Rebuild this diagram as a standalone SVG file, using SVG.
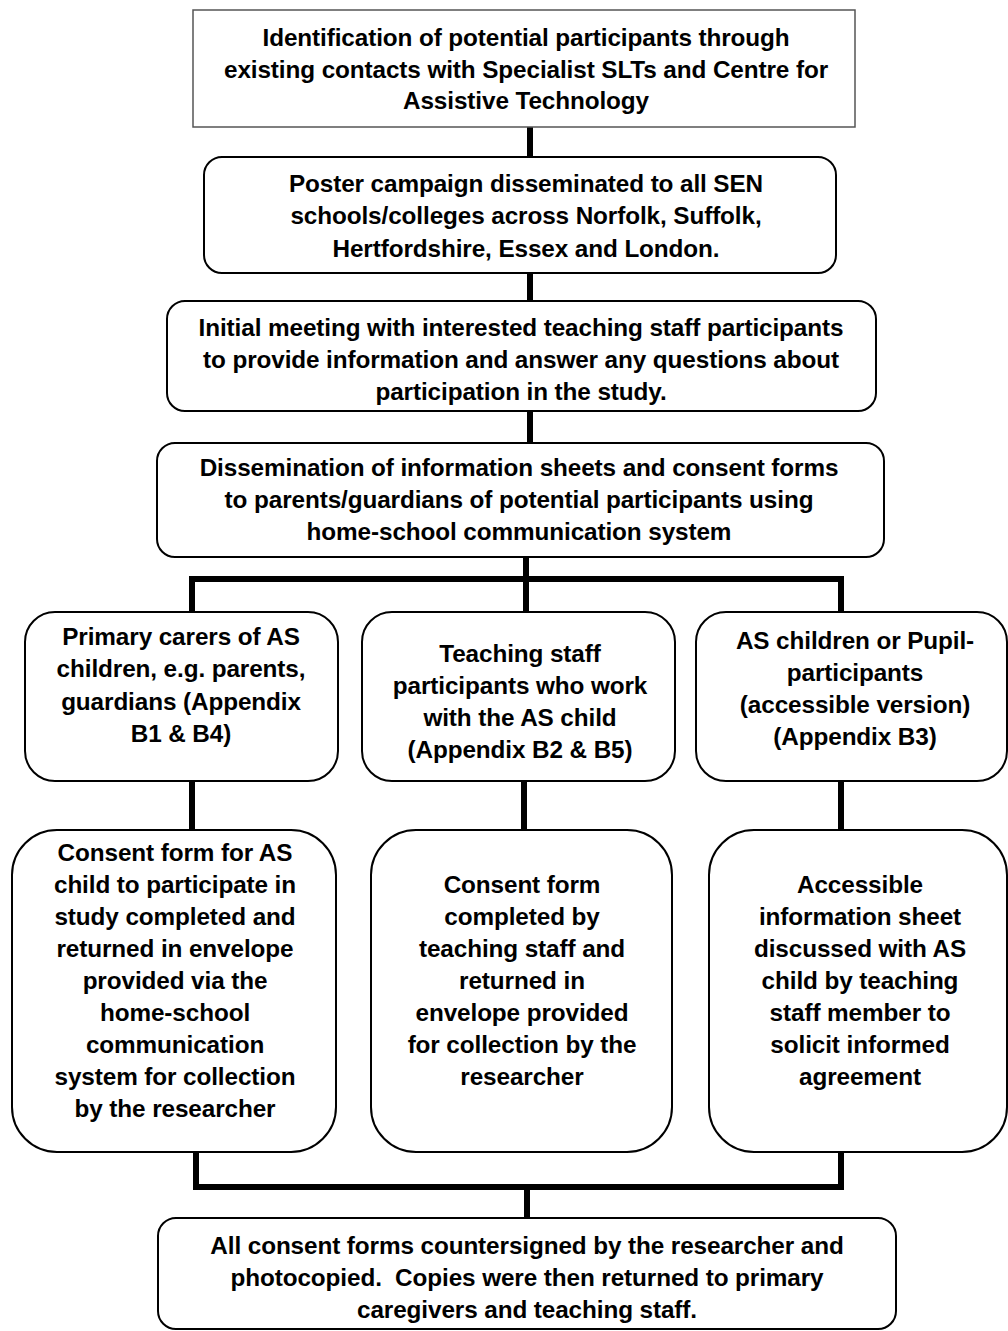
<svg xmlns="http://www.w3.org/2000/svg" width="1008" height="1331" viewBox="0 0 1008 1331">
<style>
.box{fill:#fff;stroke:#000;stroke-width:2}
.sq{fill:#fff;stroke:#555;stroke-width:1.5}
.t{font-family:"Liberation Sans",Arial,sans-serif;font-weight:bold;font-size:24.3px;letter-spacing:-0.1px;text-anchor:middle;fill:#000;white-space:pre}
.c{stroke:#000;stroke-width:6;fill:none;stroke-linecap:butt}
</style>
<rect width="1008" height="1331" fill="#fff"/>
<g id="connectors">
<line class="c" x1="530" y1="127" x2="530" y2="157"/>
<line class="c" x1="530" y1="273" x2="530" y2="301"/>
<line class="c" x1="530" y1="411" x2="530" y2="443"/>
<line class="c" x1="526" y1="557" x2="526" y2="612"/>
<polyline class="c" points="192,612 192,579 841,579 841,612"/>
<line class="c" x1="192" y1="781" x2="192" y2="830"/>
<line class="c" x1="524" y1="781" x2="524" y2="830"/>
<line class="c" x1="841" y1="781" x2="841" y2="830"/>
<polyline class="c" points="196,1152 196,1187 841,1187 841,1152"/>
<line class="c" x1="527" y1="1187" x2="527" y2="1218"/>
</g>
<g id="n1"><rect class="sq" x="193" y="10" width="662" height="117"/>
<text class="t"><tspan x="526" y="46">Identification of potential participants through</tspan><tspan x="526" y="78">existing contacts with Specialist SLTs and Centre for</tspan><tspan x="526" y="109">Assistive Technology</tspan></text></g>
<g id="n2"><rect class="box" x="204" y="157" width="632" height="116" rx="18"/>
<text class="t"><tspan x="526" y="192">Poster campaign disseminated to all SEN</tspan><tspan x="526" y="224">schools/colleges across Norfolk, Suffolk,</tspan><tspan x="526" y="257">Hertfordshire, Essex and London.</tspan></text></g>
<g id="n3"><rect class="box" x="167" y="301" width="709" height="110" rx="18"/>
<text class="t"><tspan x="521" y="336">Initial meeting with interested teaching staff participants</tspan><tspan x="521" y="368">to provide information and answer any questions about</tspan><tspan x="521" y="400">participation in the study.</tspan></text></g>
<g id="n4"><rect class="box" x="157" y="443" width="727" height="114" rx="18"/>
<text class="t"><tspan x="519" y="476">Dissemination of information sheets and consent forms</tspan><tspan x="519" y="508">to parents/guardians of potential participants using</tspan><tspan x="519" y="540">home-school communication system</tspan></text></g>
<g id="n5"><rect class="box" x="25" y="612" width="313" height="169" rx="30"/>
<text class="t"><tspan x="181" y="645">Primary carers of AS</tspan><tspan x="181" y="677">children, e.g. parents,</tspan><tspan x="181" y="710">guardians (Appendix</tspan><tspan x="181" y="742">B1 &amp; B4)</tspan></text></g>
<g id="n6"><rect class="box" x="362" y="612" width="313" height="169" rx="30"/>
<text class="t"><tspan x="520" y="662">Teaching staff</tspan><tspan x="520" y="694">participants who work</tspan><tspan x="520" y="726">with the AS child</tspan><tspan x="520" y="758">(Appendix B2 &amp; B5)</tspan></text></g>
<g id="n7"><rect class="box" x="696" y="612" width="311" height="169" rx="30"/>
<text class="t"><tspan x="855" y="649">AS children or Pupil-</tspan><tspan x="855" y="681">participants</tspan><tspan x="855" y="713">(accessible version)</tspan><tspan x="855" y="745">(Appendix B3)</tspan></text></g>
<g id="n8"><rect class="box" x="12" y="830" width="324" height="322" rx="45"/>
<text class="t"><tspan x="175" y="861">Consent form for AS</tspan><tspan x="175" y="893">child to participate in</tspan><tspan x="175" y="925">study completed and</tspan><tspan x="175" y="957">returned in envelope</tspan><tspan x="175" y="989">provided via the</tspan><tspan x="175" y="1021">home-school</tspan><tspan x="175" y="1053">communication</tspan><tspan x="175" y="1085">system for collection</tspan><tspan x="175" y="1117">by the researcher</tspan></text></g>
<g id="n9"><rect class="box" x="371" y="830" width="301" height="322" rx="45"/>
<text class="t"><tspan x="522" y="893">Consent form</tspan><tspan x="522" y="925">completed by</tspan><tspan x="522" y="957">teaching staff and</tspan><tspan x="522" y="989">returned in</tspan><tspan x="522" y="1021">envelope provided</tspan><tspan x="522" y="1053">for collection by the</tspan><tspan x="522" y="1085">researcher</tspan></text></g>
<g id="n10"><rect class="box" x="709" y="830" width="298" height="322" rx="45"/>
<text class="t"><tspan x="860" y="893">Accessible</tspan><tspan x="860" y="925">information sheet</tspan><tspan x="860" y="957">discussed with AS</tspan><tspan x="860" y="989">child by teaching</tspan><tspan x="860" y="1021">staff member to</tspan><tspan x="860" y="1053">solicit informed</tspan><tspan x="860" y="1085">agreement</tspan></text></g>
<g id="n11"><rect class="box" x="158" y="1218" width="738" height="111" rx="18"/>
<text class="t"><tspan x="527" y="1254">All consent forms countersigned by the researcher and</tspan><tspan x="527" y="1286">photocopied.  Copies were then returned to primary</tspan><tspan x="527" y="1318">caregivers and teaching staff.</tspan></text></g>
</svg>
